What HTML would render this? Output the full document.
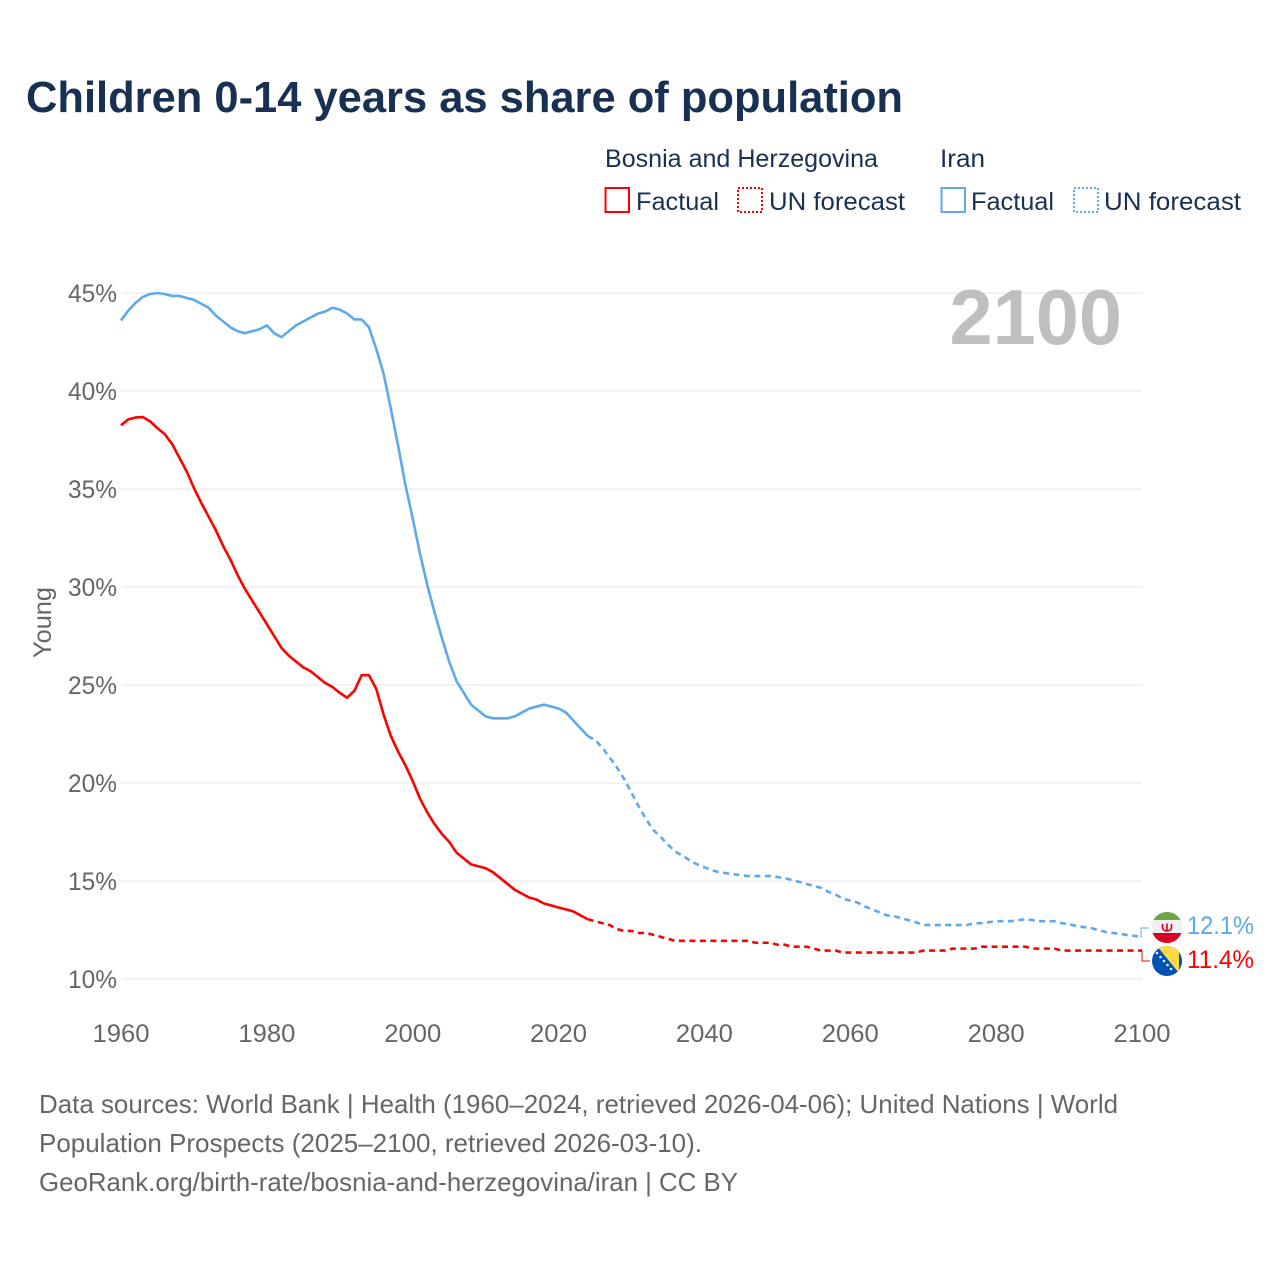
<!DOCTYPE html>
<html lang="en">
<head>
<meta charset="utf-8">
<title>Children 0-14 years as share of population</title>
<style>
html,body{margin:0;padding:0;background:#fff;width:1280px;height:1280px;overflow:hidden}
svg{display:block}
text{font-family:"Liberation Sans",sans-serif}
</style>
</head>
<body>
<svg id="chart" width="1280" height="1280" viewBox="0 0 1280 1280" xmlns="http://www.w3.org/2000/svg">
  <rect width="1280" height="1280" fill="#fff"/>
  <text x="26" y="112" font-size="44" font-weight="700" fill="#183153" textLength="877" lengthAdjust="spacingAndGlyphs">Children 0-14 years as share of population</text>

  <g font-size="25" fill="#183153">
    <text x="605" y="167" textLength="273" lengthAdjust="spacingAndGlyphs">Bosnia and Herzegovina</text>
    <text x="940" y="167" textLength="45" lengthAdjust="spacingAndGlyphs">Iran</text>
    <rect x="605.500" y="188" width="23.500" height="24" fill="none" stroke="#ff0000" stroke-width="2"/>
    <text x="636" y="210" textLength="83" lengthAdjust="spacingAndGlyphs">Factual</text>
    <rect x="738" y="188" width="24" height="24" fill="none" stroke="#ff0000" stroke-width="2" stroke-dasharray="2 2"/>
    <text x="769" y="210" textLength="136" lengthAdjust="spacingAndGlyphs">UN forecast</text>
    <rect x="941.500" y="188" width="23.500" height="24" fill="none" stroke="#5ea8ec" stroke-width="2"/>
    <text x="971" y="210" textLength="83" lengthAdjust="spacingAndGlyphs">Factual</text>
    <rect x="1074" y="188" width="24" height="24" fill="none" stroke="#5ea8ec" stroke-width="2" stroke-dasharray="2 2"/>
    <text x="1104" y="210" textLength="137" lengthAdjust="spacingAndGlyphs">UN forecast</text>
  </g>

  <g id="grid"></g>
  <g id="yticks"></g>
  <g id="xticks"></g>
  <text transform="translate(51 658) rotate(-90)" font-size="25" fill="#666" textLength="71" lengthAdjust="spacingAndGlyphs">Young</text>
  <text x="949.500" y="344" font-size="78" font-weight="700" fill="#bfbfbf" textLength="172.500" lengthAdjust="spacingAndGlyphs">2100</text>
  <g id="series"></g>

  <defs>
    <clipPath id="clipIran"><circle cx="1167" cy="927.500" r="15.500"/></clipPath>
    <clipPath id="clipBosnia"><circle cx="1167" cy="961" r="15"/></clipPath>
  </defs>
  <g clip-path="url(#clipIran)">
    <rect x="1151" y="912" width="32" height="9" fill="#6da544"/>
    <rect x="1151" y="920" width="32" height="14" fill="#f0f0f0"/>
    <rect x="1151" y="933" width="32" height="11" fill="#d80027"/>
    <path d="M1162.500 924v3.500a4.500 3.500 0 0 0 9 0v-3.500M1167 923.500v8" fill="none" stroke="#d80027" stroke-width="1.600"/>
  </g>
  <g clip-path="url(#clipBosnia)">
    <rect x="1151" y="945" width="32" height="32" fill="#0052b4"/>
    <path d="M1156 945H1179V973Z" fill="#ffda44"/>
    <g fill="#f0f0f0">
      <circle cx="1157" cy="953" r="1.300"/><circle cx="1160.500" cy="957" r="1.300"/><circle cx="1164" cy="961" r="1.300"/><circle cx="1167.500" cy="965" r="1.300"/><circle cx="1171" cy="969" r="1.300"/>
    </g>
  </g>
  <text id="labelIran" x="1187" y="934" font-size="25" fill="#5ea8ec" textLength="67" lengthAdjust="spacingAndGlyphs"></text>
  <text id="labelBosnia" x="1187" y="968" font-size="25" fill="#ff0000" textLength="67" lengthAdjust="spacingAndGlyphs"></text>

  <g font-size="26" fill="#666">
    <text x="39" y="1113" textLength="1079" lengthAdjust="spacingAndGlyphs">Data sources: World Bank | Health (1960–2024, retrieved 2026-04-06); United Nations | World</text>
    <text x="39" y="1152" textLength="663" lengthAdjust="spacingAndGlyphs">Population Prospects (2025–2100, retrieved 2026-03-10).</text>
    <text x="39" y="1191" textLength="699" lengthAdjust="spacingAndGlyphs">GeoRank.org/birth-rate/bosnia-and-herzegovina/iran | CC BY</text>
  </g>
</svg>
<script>
const firstYear = 1960;
const lastFactualYear = 2024;
const xTickYears = [1960, 1980, 2000, 2020, 2040, 2060, 2080, 2100];
const yTickValues = [10, 15, 20, 25, 30, 35, 40, 45];
const yTickLabels = ['10%', '15%', '20%', '25%', '30%', '35%', '40%', '45%'];
const endLabelIran = '12.1%';
const endLabelBosnia = '11.4%';
const iranValues = [
  43.6,44.1,44.5,44.8,44.95,45.0,44.95,44.85,44.85,44.75,
  44.65,44.45,44.25,43.85,43.55,43.25,43.05,42.95,43.05,43.15,
  43.35,42.95,42.75,43.05,43.35,43.55,43.75,43.95,44.05,44.25,
  44.15,43.95,43.65,43.65,43.25,42.15,40.9,39.1,37.2,35.2,
  33.5,31.7,30.1,28.7,27.4,26.2,25.2,24.6,24.0,23.7,
  23.4,23.3,23.3,23.3,23.4,23.6,23.8,23.9,24.0,23.9,
  23.8,23.6,23.2,22.8,22.4,22.2,21.8,21.3,20.8,20.2,
  19.5,18.8,18.15,17.6,17.25,16.85,16.5,16.3,16.05,15.85,
  15.7,15.55,15.45,15.4,15.35,15.3,15.25,15.25,15.25,15.25,
  15.2,15.15,15.05,14.95,14.85,14.75,14.65,14.45,14.3,14.1,
  14.0,13.9,13.7,13.55,13.4,13.25,13.2,13.1,13.0,12.9,
  12.75,12.75,12.75,12.75,12.75,12.75,12.75,12.85,12.85,12.9,
  12.95,12.95,12.95,13.0,13.05,13.0,12.95,12.95,12.95,12.85,
  12.8,12.7,12.65,12.6,12.5,12.4,12.35,12.3,12.25,12.2,
  12.15
];
const bosniaValues = [
  38.25,38.55,38.65,38.67,38.45,38.1,37.8,37.3,36.6,35.9,
  35.05,34.3,33.6,32.9,32.1,31.4,30.6,29.9,29.3,28.7,
  28.1,27.5,26.9,26.5,26.2,25.9,25.7,25.4,25.1,24.9,
  24.6,24.35,24.7,25.5,25.5,24.8,23.5,22.4,21.6,20.9,
  20.1,19.2,18.5,17.9,17.4,17.0,16.45,16.15,15.85,15.75,
  15.65,15.45,15.15,14.85,14.55,14.35,14.15,14.05,13.85,13.75,
  13.65,13.55,13.45,13.25,13.05,12.95,12.85,12.75,12.55,12.45,
  12.45,12.35,12.35,12.25,12.15,12.05,11.95,11.95,11.95,11.95,
  11.95,11.95,11.95,11.95,11.95,11.95,11.95,11.85,11.85,11.85,
  11.75,11.75,11.65,11.65,11.65,11.55,11.45,11.45,11.45,11.35,
  11.35,11.35,11.35,11.35,11.35,11.35,11.35,11.35,11.35,11.35,
  11.45,11.45,11.45,11.45,11.55,11.55,11.55,11.55,11.65,11.65,
  11.65,11.65,11.65,11.65,11.65,11.55,11.55,11.55,11.55,11.45,
  11.45,11.45,11.45,11.45,11.45,11.45,11.45,11.45,11.45,11.45,
  11.45
];

const NS = 'http://www.w3.org/2000/svg';
function xScale(year) { return 121 + (year - 1960) * (1142 - 121) / 140; }
function yScale(v) { return 979 - (v - 10) * (979 - 293) / 35; }
function svgEl(tag, attrs, parent) {
  const el = document.createElementNS(NS, tag);
  for (const k in attrs) el.setAttribute(k, attrs[k]);
  parent.appendChild(el);
  return el;
}
function pointsFor(values, fromYear, toYear) {
  const pts = [];
  values.forEach(function (v, i) {
    const yr = firstYear + i;
    if (yr >= fromYear && yr <= toYear) pts.push(xScale(yr).toFixed(2) + ',' + yScale(v).toFixed(2));
  });
  return pts.join(' ');
}

const grid = document.getElementById('grid');
const yticks = document.getElementById('yticks');
yTickValues.forEach(function (v, i) {
  const line = svgEl('line', { x1: 121, x2: 1142, y1: yScale(v), y2: yScale(v), stroke: '#e6e6e6', 'stroke-width': 1 }, grid);
  
  
  const t = svgEl('text', { x: 68, y: yScale(v) + 9, 'font-size': 25, fill: '#666', textLength: 49, lengthAdjust: 'spacingAndGlyphs' }, yticks);
  
  
  t.textContent = yTickLabels[i];
});

const xticks = document.getElementById('xticks');
xTickYears.forEach(function (yr) {
  const t = svgEl('text', { x: xScale(yr) - 28.5, y: 1042, 'font-size': 25, fill: '#666', textLength: 57, lengthAdjust: 'spacingAndGlyphs' }, xticks);
  
  
  t.textContent = String(yr);
});

const series = document.getElementById('series');
const lastYear = firstYear + iranValues.length - 1;

const iranSolid = svgEl('polyline', { points: pointsFor(iranValues, firstYear, lastFactualYear), fill: 'none', stroke: '#5ea8ec', 'stroke-width': 2.6, 'stroke-linejoin': 'round' }, series);


const iranDash = svgEl('polyline', { points: pointsFor(iranValues, lastFactualYear, lastYear), fill: 'none', stroke: '#5ea8ec', 'stroke-width': 2.6, 'stroke-dasharray': '6 4.500' }, series);


const bosniaSolid = svgEl('polyline', { points: pointsFor(bosniaValues, firstYear, lastFactualYear), fill: 'none', stroke: '#ff0000', 'stroke-width': 2.6, 'stroke-linejoin': 'round' }, series);


const bosniaDash = svgEl('polyline', { points: pointsFor(bosniaValues, lastFactualYear, lastYear), fill: 'none', stroke: '#ff0000', 'stroke-width': 2.6, 'stroke-dasharray': '6 4.500' }, series);



const iranEndY = yScale(iranValues[iranValues.length - 1]);
const bosniaEndY = yScale(bosniaValues[bosniaValues.length - 1]);
const iranConnector = svgEl('path', { d: 'M' + xScale(lastYear) + ' ' + iranEndY + 'H1141V928H1149', fill: 'none', stroke: '#5ea8ec', 'stroke-width': 1 }, series);


const bosniaConnector = svgEl('path', { d: 'M' + xScale(lastYear) + ' ' + bosniaEndY + 'H1142V961H1150', fill: 'none', stroke: '#ff0000', 'stroke-width': 1 }, series);



document.getElementById('labelIran').textContent = endLabelIran;
document.getElementById('labelBosnia').textContent = endLabelBosnia;
</script>
</body>
</html>
